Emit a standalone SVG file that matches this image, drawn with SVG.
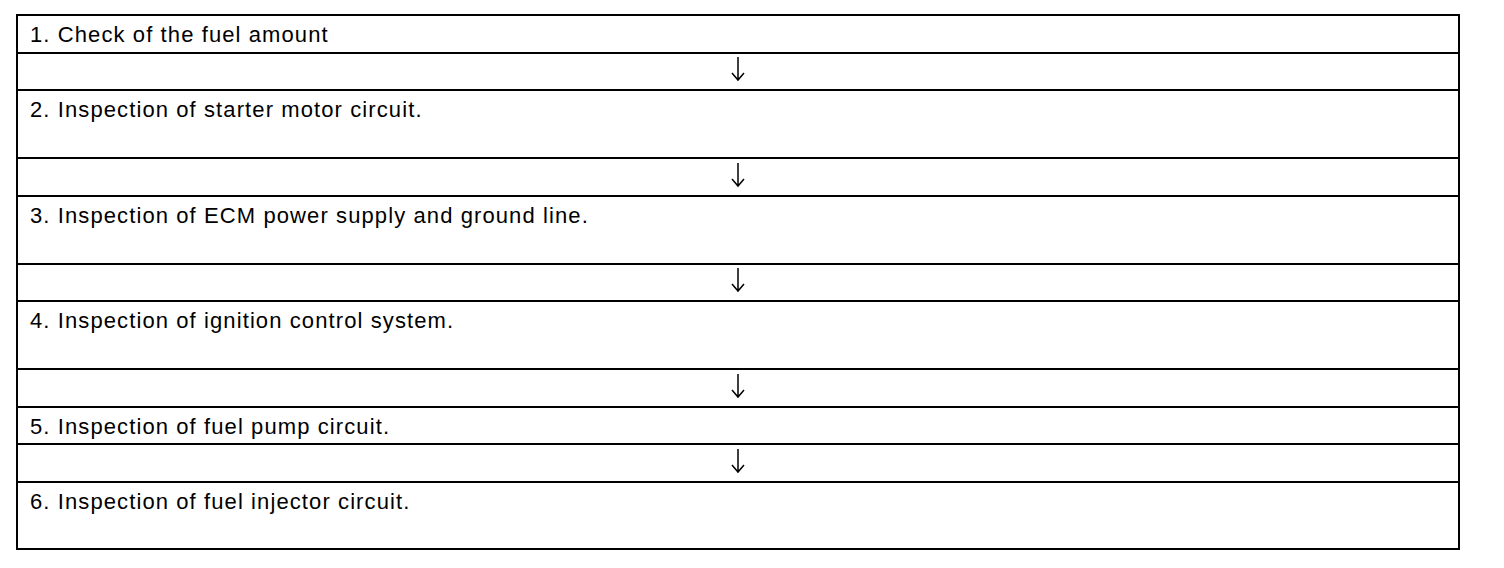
<svg xmlns="http://www.w3.org/2000/svg" width="1504" height="568" viewBox="0 0 1504 568">
  <style>
    .box { fill: #ffffff; stroke: #000000; stroke-width: 2; }
    .lbl { font-family: "Liberation Sans", Arial, sans-serif; font-size: 22px; letter-spacing: 1.1px; fill: #000000; }
    .arr { fill: none; stroke: #000000; stroke-width: 1.5; }
  </style>
  <rect x="0" y="0" width="1504" height="568" fill="#ffffff"/>
  <g id="node1">
    <rect class="box" x="17" y="15" width="1442" height="38"/>
    <text class="lbl" x="30" y="42">1. Check of the fuel amount</text>
  </g>
  <g id="node2">
    <rect class="box" x="17" y="90" width="1442" height="68"/>
    <text class="lbl" x="30" y="117">2. Inspection of starter motor circuit.</text>
  </g>
  <g id="node3">
    <rect class="box" x="17" y="196" width="1442" height="68"/>
    <text class="lbl" x="30" y="223">3. Inspection of ECM power supply and ground line.</text>
  </g>
  <g id="node4">
    <rect class="box" x="17" y="301" width="1442" height="68"/>
    <text class="lbl" x="30" y="328">4. Inspection of ignition control system.</text>
  </g>
  <g id="node5">
    <rect class="box" x="17" y="407" width="1442" height="37"/>
    <text class="lbl" x="30" y="434">5. Inspection of fuel pump circuit.</text>
  </g>
  <g id="node6">
    <rect class="box" x="17" y="482" width="1442" height="67"/>
    <text class="lbl" x="30" y="509">6. Inspection of fuel injector circuit.</text>
  </g>
  <g id="connectors">
    <rect class="box" x="17" y="53" width="1442" height="37"/>
    <rect class="box" x="17" y="158" width="1442" height="38"/>
    <rect class="box" x="17" y="264" width="1442" height="37"/>
    <rect class="box" x="17" y="369" width="1442" height="38"/>
    <rect class="box" x="17" y="444" width="1442" height="38"/>
    <path class="arr" d="M738 57 V80 M732 73 L738 80 L744 73"/>
    <path class="arr" d="M738 163 V186 M732 179 L738 186 L744 179"/>
    <path class="arr" d="M738 268 V291 M732 284 L738 291 L744 284"/>
    <path class="arr" d="M738 374 V397 M732 390 L738 397 L744 390"/>
    <path class="arr" d="M738 449 V472 M732 465 L738 472 L744 465"/>
  </g>
</svg>
